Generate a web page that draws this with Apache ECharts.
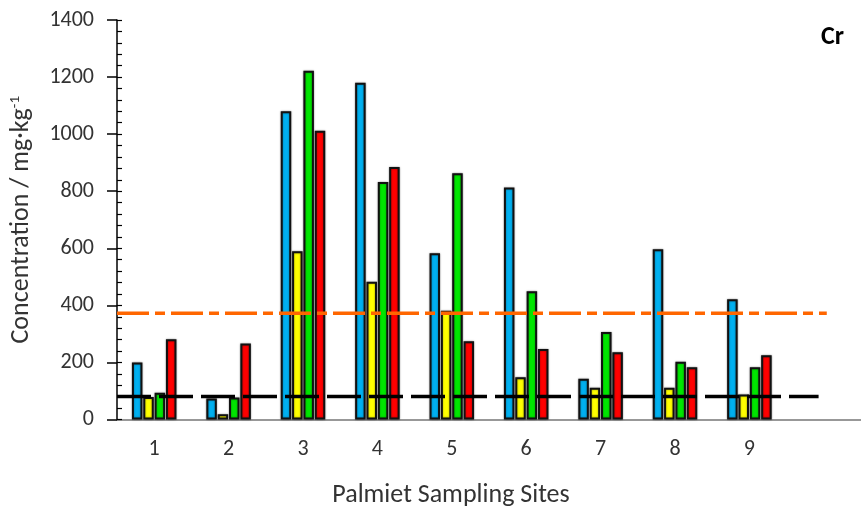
<!DOCTYPE html>
<html>
<head>
<meta charset="utf-8">
<script src="https://cdn.jsdelivr.net/npm/echarts@6/dist/echarts.min.js"></script>
<style>
html,body{margin:0;padding:0;background:#fff;}
#chart{width:861px;height:511px;}
</style>
</head>
<body>
<div id="chart"></div>
<script>
// Categories (last slot is an empty site position on the axis)
var categories = ['1','2','3','4','5','6','7','8','9',''];
// Series values (mg/kg), four bars per site
var blueValues   = [200, 74, 1080, 1180, 583, 813, 143, 597, 421];
var yellowValues = [79, 18, 590, 483, 381, 148, 111, 111, 88];
var greenValues  = [94, 77, 1222, 832, 863, 449, 307, 202, 183];
var redValues    = [281, 266, 1012, 885, 274, 247, 236, 183, 225];
// Reference guideline levels and their extents along the site axis
var orangeLevel = 372;
var blackLevel = 81;
var orangeExtent = [0, 9.54];
var blackExtent = [0, 9.43];
// Axis
var yMin = 0, yMax = 1400, yInterval = 200;

var FONT = 'Carlito, Lato, "Noto Sans", sans-serif';
var chart = echarts.init(document.getElementById('chart'));

function barSeries(name, data, color) {
  return {
    name: name, type: 'bar', data: data,
    xAxisIndex: 0, yAxisIndex: 0,
    barWidth: 10.5, barGap: '8%',
    itemStyle: {
      color: color, borderColor: '#111', borderWidth: 2,
      shadowColor: 'rgba(0,0,0,0.4)', shadowBlur: 2
    },
    z: 2
  };
}
function refLine(level, extent) {
  return extent.map(function (x) { return [x, level]; });
}

chart.setOption({
  animation: false,
  backgroundColor: '#fff',
  grid: { left: 117, right: 0, top: 20, bottom: 91.5, containLabel: false },
  title: [
    { text: 'Cr', right: 12, top: 19,
      textStyle: { fontFamily: FONT, fontWeight: 'bold', fontSize: 26, color: '#000' } },
    { text: 'Palmiet Sampling Sites', left: 446, top: 477, textAlign: 'center',
      textStyle: { fontFamily: FONT, fontWeight: 'normal', fontSize: 26, color: '#333' } }
  ],
  xAxis: [
    {
      type: 'category', data: categories,
      axisLine: { lineStyle: { color: '#777', width: 1.5 } },
      axisTick: { show: false },
      axisLabel: { fontFamily: FONT, fontSize: 22, color: '#333', margin: 19 },
      splitLine: { show: false }
    },
    {
      type: 'value', min: 0, max: categories.length, show: false
    }
  ],
  yAxis: [
    {
      type: 'value', min: yMin, max: yMax, interval: yInterval,
      name: 'Concentration / mg·kg{sup|-1}',
      nameLocation: 'middle', nameGap: 82, nameRotate: 90,
      nameTextStyle: {
        fontFamily: FONT, fontSize: 26, color: '#333',
        rich: { sup: { fontFamily: FONT, fontSize: 15, color: '#333', verticalAlign: 'top', padding: [0,0,12,0] } }
      },
      axisLine: { show: true, lineStyle: { color: '#000', width: 1.5 } },
      axisTick: { show: true, length: 10, lineStyle: { color: '#000', width: 1.5 } },
      axisLabel: { fontFamily: FONT, fontSize: 22, color: '#333', margin: 23,
        formatter: function (v) { return String(v); } },
      splitLine: { show: false }
    },
    {
      type: 'value', min: yMin, max: yMax, interval: yInterval, position: 'left',
      axisLine: { show: false },
      axisTick: { show: true, inside: true, length: 5, lineStyle: { color: '#000', width: 1.2 } },
      minorTick: { show: true, splitNumber: 5, length: 5, lineStyle: { color: '#000', width: 1.2 } },
      axisLabel: { show: false },
      splitLine: { show: false }
    }
  ],
  series: [
    barSeries('Blue', blueValues, '#00B0F0'),
    barSeries('Yellow', yellowValues, '#FFFF00'),
    barSeries('Green', greenValues, '#00E600'),
    barSeries('Red', redValues, '#FF0000'),
    {
      name: 'Orange guideline', type: 'line', xAxisIndex: 1, yAxisIndex: 0,
      data: refLine(orangeLevel, orangeExtent), symbol: 'none', z: 5,
      lineStyle: { color: '#FF6600', width: 3.5, type: [32, 6, 10, 6] }
    },
    {
      name: 'Black guideline', type: 'line', xAxisIndex: 1, yAxisIndex: 0,
      data: refLine(blackLevel, blackExtent), symbol: 'none', z: 5,
      lineStyle: { color: '#000', width: 3.5, type: [34, 8] }
    }
  ]
});
</script>
</body>
</html>
